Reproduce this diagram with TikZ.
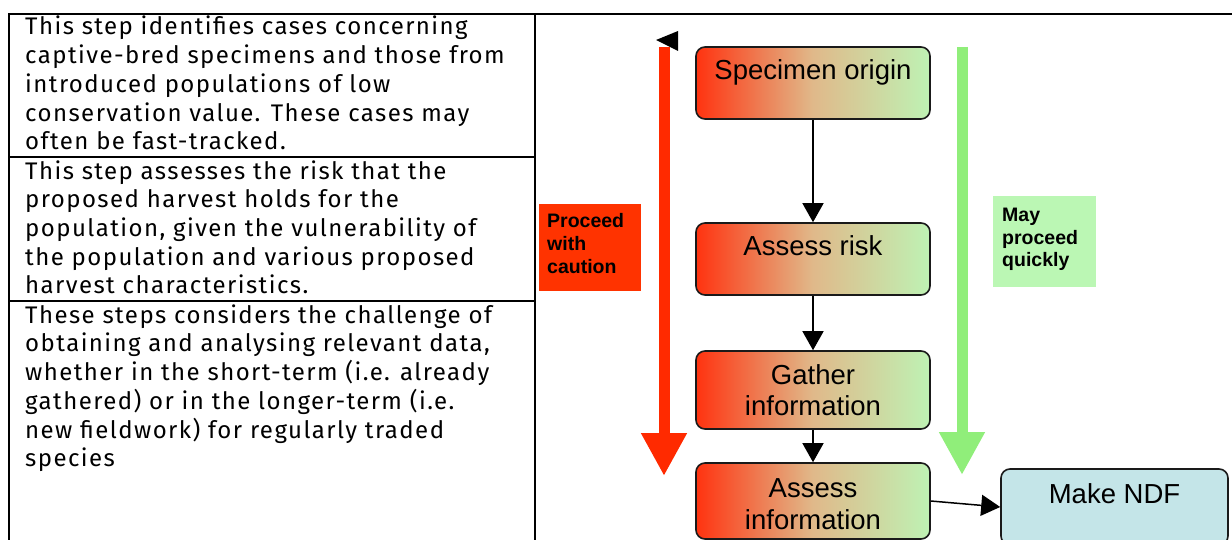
\documentclass[tikz,border=0pt]{standalone}
\usepackage{fontspec}
\setmainfont{Liberation Sans}
\newfontfamily\tablefont[LetterSpace=6]{Fira Sans}
\usetikzlibrary{arrows.meta}
\definecolor{redarrow}{HTML}{FF2A00}
\definecolor{greenarrow}{HTML}{90EE7A}
\definecolor{procred}{HTML}{FF3300}
\definecolor{maygreen}{HTML}{BBF7B4}
\definecolor{ndfblue}{HTML}{C4E5E8}
\definecolor{gL}{HTML}{FF3310}
\definecolor{gM}{HTML}{E0B98A}
\definecolor{gR}{HTML}{BEF2B4}
\definecolor{boxline}{HTML}{1A1A1A}
\tikzset{
  tblline/.style={draw=black, line width=2pt},
  tabtext/.style={font=\tablefont\fontsize{24}{28.75}\selectfont, align=left, inner sep=0pt, anchor=base west},
  flowbox/.style={draw=boxline, line width=1.6pt, rounded corners=9pt,
    left color=gL, right color=gR, middle color=gM,
    minimum width=234pt, align=center, inner sep=0pt,
    font=\fontsize{27.5}{31.5}\selectfont},
  onelinetext/.style={text height=20pt, text depth=26pt},
  lblbox/.style={inner sep=0pt, minimum width=102pt, minimum height=87pt},
  lbltext/.style={font=\bfseries\fontsize{19.5}{23}\selectfont, align=left, inner sep=0pt, anchor=base west},
  conn/.style={draw=black, line width=1.5pt, -{Triangle[width=21pt,length=19pt]}},
  bigarrow/.style={line width=11pt, -{Triangle[width=43pt,length=43pt]}}
}
\begin{document}
\begin{tikzpicture}[x=1pt,y=-1pt]
\useasboundingbox (0,0) rectangle (1232,540);
\clip (0,0) rectangle (1232,540);
\fill[white] (0,0) rectangle (1232,540);
% table
\draw[tblline] (9,545) -- (9,14) -- (1240,14);
\draw[tblline] (535,14) -- (535,545);
\draw[tblline] (9,157) -- (535,157);
\draw[tblline] (9,301) -- (535,301);
\node[tabtext] (t1) at (25,150) {This step identifies cases concerning\\captive-bred specimens and those from\\introduced populations of low\\conservation value. These cases may\\often be fast-tracked.};
\node[tabtext] (t2) at (25,294) {This step assesses the risk that the\\proposed harvest holds for the\\population, given the vulnerability of\\the population and various proposed\\harvest characteristics.};
\node[tabtext] (t3) at (25,466.75) {These steps considers the challenge of\\obtaining and analysing relevant data,\\whether in the short-term (i.e. already\\gathered) or in the longer-term (i.e.\\new fieldwork) for regularly traded\\species};
% big arrows
\coordinate (rtop) at (664,47);
\coordinate (rbot) at (664,476);
\coordinate (gtop) at (962,47);
\coordinate (gbot) at (962,475);
\draw[bigarrow, redarrow] (rtop) -- (rbot);
\draw[bigarrow, greenarrow] (gtop) -- (gbot);
\fill[black] (656,40) -- (678,31) -- (678,51) -- cycle;
% labels
\node[lblbox, fill=procred] (proceed) at (590,247.5) {};
\node[lbltext] (proceedtxt) at (547,273) {Proceed\\with\\caution};
\node[lblbox, fill=maygreen, minimum width=103pt, minimum height=91pt] (may) at (1044.5,241.5) {};
\node[lbltext] (maytxt) at (1002,267) {May\\proceed\\quickly};
% flow boxes
\node[flowbox, onelinetext, minimum height=72pt] (so) at (813,83) {Specimen origin};
\node[flowbox, onelinetext, minimum height=72pt] (ar) at (813,259) {Assess risk};
\node[flowbox, minimum height=78pt] (gi) at (813,390) {Gather\\information};
\node[flowbox, minimum height=76pt, text height=56pt, text depth=0pt] (ai) at (813,501) {Assess\\information};
\node[draw=boxline, line width=1.6pt, rounded corners=9pt, fill=ndfblue, minimum width=227pt, minimum height=76pt, inner sep=0pt, font=\fontsize{27.5}{31.5}\selectfont, text height=20pt, text depth=28pt] (ndf) at (1114.5,507) {Make NDF};
% connectors
\draw[conn] (so) -- (ar);
\draw[conn] (ar) -- (gi);
\draw[conn] (gi) -- (ai);
\draw[conn] (ai.east) -- (ndf.west);
\end{tikzpicture}
\end{document}
